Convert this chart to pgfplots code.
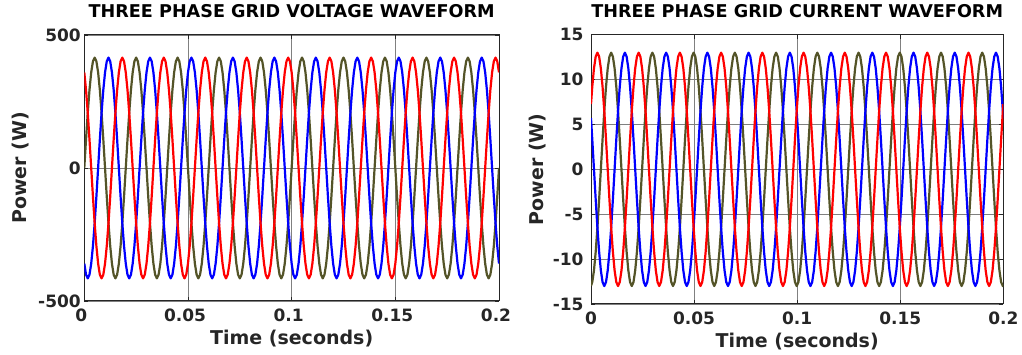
\documentclass[border=0pt]{standalone}
\usepackage{pgfplots}
\pgfplotsset{compat=1.18}
\usepackage{pgfplotstable}
\usepackage{fontspec}
\setmainfont{DejaVu Sans}
\definecolor{olv}{RGB}{84,84,40}
\definecolor{axgray}{RGB}{38,38,38}
\definecolor{pred}{RGB}{255,0,0}
\definecolor{pblue}{RGB}{0,0,255}

\pgfplotstableread{
t o r b
0.000000 0 359.4 -359.4
0.000833 107.4 293.4 -400.9
0.001667 207.5 207.5 -415
0.002500 293.4 107.4 -400.9
0.003333 359.4 0 -359.4
0.004167 400.9 -107.4 -293.4
0.005000 415 -207.5 -207.5
0.005833 400.9 -293.4 -107.4
0.006667 359.4 -359.4 0
0.007500 293.4 -400.9 107.4
0.008333 207.5 -415 207.5
0.009167 107.4 -400.9 293.4
0.010000 0 -359.4 359.4
0.010833 -107.4 -293.4 400.9
0.011667 -207.5 -207.5 415
0.012500 -293.4 -107.4 400.9
0.013333 -359.4 0 359.4
0.014167 -400.9 107.4 293.4
0.015000 -415 207.5 207.5
0.015833 -400.9 293.4 107.4
0.016667 -359.4 359.4 0
0.017500 -293.4 400.9 -107.4
0.018333 -207.5 415 -207.5
0.019167 -107.4 400.9 -293.4
0.020000 0 359.4 -359.4
0.020833 107.4 293.4 -400.9
0.021667 207.5 207.5 -415
0.022500 293.4 107.4 -400.9
0.023333 359.4 0 -359.4
0.024167 400.9 -107.4 -293.4
0.025000 415 -207.5 -207.5
0.025833 400.9 -293.4 -107.4
0.026667 359.4 -359.4 0
0.027500 293.4 -400.9 107.4
0.028333 207.5 -415 207.5
0.029167 107.4 -400.9 293.4
0.030000 0 -359.4 359.4
0.030833 -107.4 -293.4 400.9
0.031667 -207.5 -207.5 415
0.032500 -293.4 -107.4 400.9
0.033333 -359.4 0 359.4
0.034167 -400.9 107.4 293.4
0.035000 -415 207.5 207.5
0.035833 -400.9 293.4 107.4
0.036667 -359.4 359.4 0
0.037500 -293.4 400.9 -107.4
0.038333 -207.5 415 -207.5
0.039167 -107.4 400.9 -293.4
0.040000 0 359.4 -359.4
0.040833 107.4 293.4 -400.9
0.041667 207.5 207.5 -415
0.042500 293.4 107.4 -400.9
0.043333 359.4 0 -359.4
0.044167 400.9 -107.4 -293.4
0.045000 415 -207.5 -207.5
0.045833 400.9 -293.4 -107.4
0.046667 359.4 -359.4 0
0.047500 293.4 -400.9 107.4
0.048333 207.5 -415 207.5
0.049167 107.4 -400.9 293.4
0.050000 0 -359.4 359.4
0.050833 -107.4 -293.4 400.9
0.051667 -207.5 -207.5 415
0.052500 -293.4 -107.4 400.9
0.053333 -359.4 0 359.4
0.054167 -400.9 107.4 293.4
0.055000 -415 207.5 207.5
0.055833 -400.9 293.4 107.4
0.056667 -359.4 359.4 0
0.057500 -293.4 400.9 -107.4
0.058333 -207.5 415 -207.5
0.059167 -107.4 400.9 -293.4
0.060000 0 359.4 -359.4
0.060833 107.4 293.4 -400.9
0.061667 207.5 207.5 -415
0.062500 293.4 107.4 -400.9
0.063333 359.4 0 -359.4
0.064167 400.9 -107.4 -293.4
0.065000 415 -207.5 -207.5
0.065833 400.9 -293.4 -107.4
0.066667 359.4 -359.4 0
0.067500 293.4 -400.9 107.4
0.068333 207.5 -415 207.5
0.069167 107.4 -400.9 293.4
0.070000 0 -359.4 359.4
0.070833 -107.4 -293.4 400.9
0.071667 -207.5 -207.5 415
0.072500 -293.4 -107.4 400.9
0.073333 -359.4 0 359.4
0.074167 -400.9 107.4 293.4
0.075000 -415 207.5 207.5
0.075833 -400.9 293.4 107.4
0.076667 -359.4 359.4 0
0.077500 -293.4 400.9 -107.4
0.078333 -207.5 415 -207.5
0.079167 -107.4 400.9 -293.4
0.080000 0 359.4 -359.4
0.080833 107.4 293.4 -400.9
0.081667 207.5 207.5 -415
0.082500 293.4 107.4 -400.9
0.083333 359.4 0 -359.4
0.084167 400.9 -107.4 -293.4
0.085000 415 -207.5 -207.5
0.085833 400.9 -293.4 -107.4
0.086667 359.4 -359.4 0
0.087500 293.4 -400.9 107.4
0.088333 207.5 -415 207.5
0.089167 107.4 -400.9 293.4
0.090000 0 -359.4 359.4
0.090833 -107.4 -293.4 400.9
0.091667 -207.5 -207.5 415
0.092500 -293.4 -107.4 400.9
0.093333 -359.4 0 359.4
0.094167 -400.9 107.4 293.4
0.095000 -415 207.5 207.5
0.095833 -400.9 293.4 107.4
0.096667 -359.4 359.4 0
0.097500 -293.4 400.9 -107.4
0.098333 -207.5 415 -207.5
0.099167 -107.4 400.9 -293.4
0.100000 0 359.4 -359.4
0.100833 107.4 293.4 -400.9
0.101667 207.5 207.5 -415
0.102500 293.4 107.4 -400.9
0.103333 359.4 0 -359.4
0.104167 400.9 -107.4 -293.4
0.105000 415 -207.5 -207.5
0.105833 400.9 -293.4 -107.4
0.106667 359.4 -359.4 0
0.107500 293.4 -400.9 107.4
0.108333 207.5 -415 207.5
0.109167 107.4 -400.9 293.4
0.110000 0 -359.4 359.4
0.110833 -107.4 -293.4 400.9
0.111667 -207.5 -207.5 415
0.112500 -293.4 -107.4 400.9
0.113333 -359.4 0 359.4
0.114167 -400.9 107.4 293.4
0.115000 -415 207.5 207.5
0.115833 -400.9 293.4 107.4
0.116667 -359.4 359.4 0
0.117500 -293.4 400.9 -107.4
0.118333 -207.5 415 -207.5
0.119167 -107.4 400.9 -293.4
0.120000 0 359.4 -359.4
0.120833 107.4 293.4 -400.9
0.121667 207.5 207.5 -415
0.122500 293.4 107.4 -400.9
0.123333 359.4 0 -359.4
0.124167 400.9 -107.4 -293.4
0.125000 415 -207.5 -207.5
0.125833 400.9 -293.4 -107.4
0.126667 359.4 -359.4 0
0.127500 293.4 -400.9 107.4
0.128333 207.5 -415 207.5
0.129167 107.4 -400.9 293.4
0.130000 0 -359.4 359.4
0.130833 -107.4 -293.4 400.9
0.131667 -207.5 -207.5 415
0.132500 -293.4 -107.4 400.9
0.133333 -359.4 0 359.4
0.134167 -400.9 107.4 293.4
0.135000 -415 207.5 207.5
0.135833 -400.9 293.4 107.4
0.136667 -359.4 359.4 0
0.137500 -293.4 400.9 -107.4
0.138333 -207.5 415 -207.5
0.139167 -107.4 400.9 -293.4
0.140000 0 359.4 -359.4
0.140833 107.4 293.4 -400.9
0.141667 207.5 207.5 -415
0.142500 293.4 107.4 -400.9
0.143333 359.4 0 -359.4
0.144167 400.9 -107.4 -293.4
0.145000 415 -207.5 -207.5
0.145833 400.9 -293.4 -107.4
0.146667 359.4 -359.4 0
0.147500 293.4 -400.9 107.4
0.148333 207.5 -415 207.5
0.149167 107.4 -400.9 293.4
0.150000 0 -359.4 359.4
0.150833 -107.4 -293.4 400.9
0.151667 -207.5 -207.5 415
0.152500 -293.4 -107.4 400.9
0.153333 -359.4 0 359.4
0.154167 -400.9 107.4 293.4
0.155000 -415 207.5 207.5
0.155833 -400.9 293.4 107.4
0.156667 -359.4 359.4 0
0.157500 -293.4 400.9 -107.4
0.158333 -207.5 415 -207.5
0.159167 -107.4 400.9 -293.4
0.160000 0 359.4 -359.4
0.160833 107.4 293.4 -400.9
0.161667 207.5 207.5 -415
0.162500 293.4 107.4 -400.9
0.163333 359.4 0 -359.4
0.164167 400.9 -107.4 -293.4
0.165000 415 -207.5 -207.5
0.165833 400.9 -293.4 -107.4
0.166667 359.4 -359.4 0
0.167500 293.4 -400.9 107.4
0.168333 207.5 -415 207.5
0.169167 107.4 -400.9 293.4
0.170000 0 -359.4 359.4
0.170833 -107.4 -293.4 400.9
0.171667 -207.5 -207.5 415
0.172500 -293.4 -107.4 400.9
0.173333 -359.4 0 359.4
0.174167 -400.9 107.4 293.4
0.175000 -415 207.5 207.5
0.175833 -400.9 293.4 107.4
0.176667 -359.4 359.4 0
0.177500 -293.4 400.9 -107.4
0.178333 -207.5 415 -207.5
0.179167 -107.4 400.9 -293.4
0.180000 0 359.4 -359.4
0.180833 107.4 293.4 -400.9
0.181667 207.5 207.5 -415
0.182500 293.4 107.4 -400.9
0.183333 359.4 0 -359.4
0.184167 400.9 -107.4 -293.4
0.185000 415 -207.5 -207.5
0.185833 400.9 -293.4 -107.4
0.186667 359.4 -359.4 0
0.187500 293.4 -400.9 107.4
0.188333 207.5 -415 207.5
0.189167 107.4 -400.9 293.4
0.190000 0 -359.4 359.4
0.190833 -107.4 -293.4 400.9
0.191667 -207.5 -207.5 415
0.192500 -293.4 -107.4 400.9
0.193333 -359.4 0 359.4
0.194167 -400.9 107.4 293.4
0.195000 -415 207.5 207.5
0.195833 -400.9 293.4 107.4
0.196667 -359.4 359.4 0
0.197500 -293.4 400.9 -107.4
0.198333 -207.5 415 -207.5
0.199167 -107.4 400.9 -293.4
0.200000 0 359.4 -359.4
}\volt

\pgfplotstableread{
t r b o
0.000000 7.27 5.70 -12.97
0.000611 9.19 3.36 -12.56
0.001444 11.26 0 -11.26
0.002278 12.56 -3.36 -9.19
0.003111 13 -6.5 -6.5
0.003944 12.56 -9.19 -3.36
0.004778 11.26 -11.26 0
0.005611 9.19 -12.56 3.36
0.006444 6.5 -13 6.5
0.007278 3.36 -12.56 9.19
0.008111 0 -11.26 11.26
0.008944 -3.36 -9.19 12.56
0.009778 -6.5 -6.5 13
0.010611 -9.19 -3.36 12.56
0.011444 -11.26 0 11.26
0.012278 -12.56 3.36 9.19
0.013111 -13 6.5 6.5
0.013944 -12.56 9.19 3.36
0.014778 -11.26 11.26 0
0.015611 -9.19 12.56 -3.36
0.016444 -6.5 13 -6.5
0.017278 -3.36 12.56 -9.19
0.018111 0 11.26 -11.26
0.018944 3.36 9.19 -12.56
0.019778 6.5 6.5 -13
0.020611 9.19 3.36 -12.56
0.021444 11.26 0 -11.26
0.022278 12.56 -3.36 -9.19
0.023111 13 -6.5 -6.5
0.023944 12.56 -9.19 -3.36
0.024778 11.26 -11.26 0
0.025611 9.19 -12.56 3.36
0.026444 6.5 -13 6.5
0.027278 3.36 -12.56 9.19
0.028111 0 -11.26 11.26
0.028944 -3.36 -9.19 12.56
0.029778 -6.5 -6.5 13
0.030611 -9.19 -3.36 12.56
0.031444 -11.26 0 11.26
0.032278 -12.56 3.36 9.19
0.033111 -13 6.5 6.5
0.033944 -12.56 9.19 3.36
0.034778 -11.26 11.26 0
0.035611 -9.19 12.56 -3.36
0.036444 -6.5 13 -6.5
0.037278 -3.36 12.56 -9.19
0.038111 0 11.26 -11.26
0.038944 3.36 9.19 -12.56
0.039778 6.5 6.5 -13
0.040611 9.19 3.36 -12.56
0.041444 11.26 0 -11.26
0.042278 12.56 -3.36 -9.19
0.043111 13 -6.5 -6.5
0.043944 12.56 -9.19 -3.36
0.044778 11.26 -11.26 0
0.045611 9.19 -12.56 3.36
0.046444 6.5 -13 6.5
0.047278 3.36 -12.56 9.19
0.048111 0 -11.26 11.26
0.048944 -3.36 -9.19 12.56
0.049778 -6.5 -6.5 13
0.050611 -9.19 -3.36 12.56
0.051444 -11.26 0 11.26
0.052278 -12.56 3.36 9.19
0.053111 -13 6.5 6.5
0.053944 -12.56 9.19 3.36
0.054778 -11.26 11.26 0
0.055611 -9.19 12.56 -3.36
0.056444 -6.5 13 -6.5
0.057278 -3.36 12.56 -9.19
0.058111 0 11.26 -11.26
0.058944 3.36 9.19 -12.56
0.059778 6.5 6.5 -13
0.060611 9.19 3.36 -12.56
0.061444 11.26 0 -11.26
0.062278 12.56 -3.36 -9.19
0.063111 13 -6.5 -6.5
0.063944 12.56 -9.19 -3.36
0.064778 11.26 -11.26 0
0.065611 9.19 -12.56 3.36
0.066444 6.5 -13 6.5
0.067278 3.36 -12.56 9.19
0.068111 0 -11.26 11.26
0.068944 -3.36 -9.19 12.56
0.069778 -6.5 -6.5 13
0.070611 -9.19 -3.36 12.56
0.071444 -11.26 0 11.26
0.072278 -12.56 3.36 9.19
0.073111 -13 6.5 6.5
0.073944 -12.56 9.19 3.36
0.074778 -11.26 11.26 0
0.075611 -9.19 12.56 -3.36
0.076444 -6.5 13 -6.5
0.077278 -3.36 12.56 -9.19
0.078111 0 11.26 -11.26
0.078944 3.36 9.19 -12.56
0.079778 6.5 6.5 -13
0.080611 9.19 3.36 -12.56
0.081444 11.26 0 -11.26
0.082278 12.56 -3.36 -9.19
0.083111 13 -6.5 -6.5
0.083944 12.56 -9.19 -3.36
0.084778 11.26 -11.26 0
0.085611 9.19 -12.56 3.36
0.086444 6.5 -13 6.5
0.087278 3.36 -12.56 9.19
0.088111 0 -11.26 11.26
0.088944 -3.36 -9.19 12.56
0.089778 -6.5 -6.5 13
0.090611 -9.19 -3.36 12.56
0.091444 -11.26 0 11.26
0.092278 -12.56 3.36 9.19
0.093111 -13 6.5 6.5
0.093944 -12.56 9.19 3.36
0.094778 -11.26 11.26 0
0.095611 -9.19 12.56 -3.36
0.096444 -6.5 13 -6.5
0.097278 -3.36 12.56 -9.19
0.098111 0 11.26 -11.26
0.098944 3.36 9.19 -12.56
0.099778 6.5 6.5 -13
0.100611 9.19 3.36 -12.56
0.101444 11.26 0 -11.26
0.102278 12.56 -3.36 -9.19
0.103111 13 -6.5 -6.5
0.103944 12.56 -9.19 -3.36
0.104778 11.26 -11.26 0
0.105611 9.19 -12.56 3.36
0.106444 6.5 -13 6.5
0.107278 3.36 -12.56 9.19
0.108111 0 -11.26 11.26
0.108944 -3.36 -9.19 12.56
0.109778 -6.5 -6.5 13
0.110611 -9.19 -3.36 12.56
0.111444 -11.26 0 11.26
0.112278 -12.56 3.36 9.19
0.113111 -13 6.5 6.5
0.113944 -12.56 9.19 3.36
0.114778 -11.26 11.26 0
0.115611 -9.19 12.56 -3.36
0.116444 -6.5 13 -6.5
0.117278 -3.36 12.56 -9.19
0.118111 0 11.26 -11.26
0.118944 3.36 9.19 -12.56
0.119778 6.5 6.5 -13
0.120611 9.19 3.36 -12.56
0.121444 11.26 0 -11.26
0.122278 12.56 -3.36 -9.19
0.123111 13 -6.5 -6.5
0.123944 12.56 -9.19 -3.36
0.124778 11.26 -11.26 0
0.125611 9.19 -12.56 3.36
0.126444 6.5 -13 6.5
0.127278 3.36 -12.56 9.19
0.128111 0 -11.26 11.26
0.128944 -3.36 -9.19 12.56
0.129778 -6.5 -6.5 13
0.130611 -9.19 -3.36 12.56
0.131444 -11.26 0 11.26
0.132278 -12.56 3.36 9.19
0.133111 -13 6.5 6.5
0.133944 -12.56 9.19 3.36
0.134778 -11.26 11.26 0
0.135611 -9.19 12.56 -3.36
0.136444 -6.5 13 -6.5
0.137278 -3.36 12.56 -9.19
0.138111 0 11.26 -11.26
0.138944 3.36 9.19 -12.56
0.139778 6.5 6.5 -13
0.140611 9.19 3.36 -12.56
0.141444 11.26 0 -11.26
0.142278 12.56 -3.36 -9.19
0.143111 13 -6.5 -6.5
0.143944 12.56 -9.19 -3.36
0.144778 11.26 -11.26 0
0.145611 9.19 -12.56 3.36
0.146444 6.5 -13 6.5
0.147278 3.36 -12.56 9.19
0.148111 0 -11.26 11.26
0.148944 -3.36 -9.19 12.56
0.149778 -6.5 -6.5 13
0.150611 -9.19 -3.36 12.56
0.151444 -11.26 0 11.26
0.152278 -12.56 3.36 9.19
0.153111 -13 6.5 6.5
0.153944 -12.56 9.19 3.36
0.154778 -11.26 11.26 0
0.155611 -9.19 12.56 -3.36
0.156444 -6.5 13 -6.5
0.157278 -3.36 12.56 -9.19
0.158111 0 11.26 -11.26
0.158944 3.36 9.19 -12.56
0.159778 6.5 6.5 -13
0.160611 9.19 3.36 -12.56
0.161444 11.26 0 -11.26
0.162278 12.56 -3.36 -9.19
0.163111 13 -6.5 -6.5
0.163944 12.56 -9.19 -3.36
0.164778 11.26 -11.26 0
0.165611 9.19 -12.56 3.36
0.166444 6.5 -13 6.5
0.167278 3.36 -12.56 9.19
0.168111 0 -11.26 11.26
0.168944 -3.36 -9.19 12.56
0.169778 -6.5 -6.5 13
0.170611 -9.19 -3.36 12.56
0.171444 -11.26 0 11.26
0.172278 -12.56 3.36 9.19
0.173111 -13 6.5 6.5
0.173944 -12.56 9.19 3.36
0.174778 -11.26 11.26 0
0.175611 -9.19 12.56 -3.36
0.176444 -6.5 13 -6.5
0.177278 -3.36 12.56 -9.19
0.178111 0 11.26 -11.26
0.178944 3.36 9.19 -12.56
0.179778 6.5 6.5 -13
0.180611 9.19 3.36 -12.56
0.181444 11.26 0 -11.26
0.182278 12.56 -3.36 -9.19
0.183111 13 -6.5 -6.5
0.183944 12.56 -9.19 -3.36
0.184778 11.26 -11.26 0
0.185611 9.19 -12.56 3.36
0.186444 6.5 -13 6.5
0.187278 3.36 -12.56 9.19
0.188111 0 -11.26 11.26
0.188944 -3.36 -9.19 12.56
0.189778 -6.5 -6.5 13
0.190611 -9.19 -3.36 12.56
0.191444 -11.26 0 11.26
0.192278 -12.56 3.36 9.19
0.193111 -13 6.5 6.5
0.193944 -12.56 9.19 3.36
0.194778 -11.26 11.26 0
0.195611 -9.19 12.56 -3.36
0.196444 -6.5 13 -6.5
0.197278 -3.36 12.56 -9.19
0.198111 0 11.26 -11.26
0.198944 3.36 9.19 -12.56
0.199778 6.5 6.5 -13
0.200000 7.27 5.70 -12.97
}\curr

\pgfplotsset{
  wave/.style={
    scale only axis, anchor=south west,
    xmin=0, xmax=0.2,
    xtick={0,0.05,0.1,0.15,0.2},
    xticklabels={0,0.05,0.1,0.15,0.2},
    scaled x ticks=false, scaled y ticks=false,
    grid=major,
    grid style={line width=0.7pt, draw=black!50},
    axis line style={line width=1pt, draw=axgray},
    every tick/.style={line width=0.8pt, draw=axgray},
    tick align=inside, major tick length=4pt,
    every tick label/.append style={font=\fontsize{17}{20}\selectfont\bfseries, text=axgray},
    xticklabel style={anchor=base, yshift=-20.5pt},
    title style={font=\fontsize{17.6}{21}\selectfont\bfseries, text=black, at={(axis description cs:0.5,1)}, anchor=base, yshift=11.5pt},
    xlabel style={font=\fontsize{19}{22}\selectfont\bfseries, text=axgray, at={(axis description cs:0.5,0)}, anchor=base, yshift=-44pt},
    ylabel style={font=\fontsize{19}{22}\selectfont\bfseries, text=axgray, at={(axis description cs:0,0.5)}, anchor=center},
    xlabel={Time (seconds)}, ylabel={Power (W)},
    every axis plot/.append style={line width=2.2pt, no markers, line join=round},
  }
}

\begin{document}
\begin{tikzpicture}
\useasboundingbox (0,0) rectangle (1022pt,355pt);
\begin{axis}[wave,
  at={(84.3pt,54pt)}, width=414.7pt, height=266pt,
  ymin=-500, ymax=500, ytick={-500,0,500}, yticklabels={-500,0,500},
  xticklabel style={xshift=-3pt},
  ylabel style={yshift=63.8pt},
  title={THREE PHASE GRID VOLTAGE WAVEFORM}]
\addplot[olv] table[x=t, y=o] {\volt};
\addplot[pblue] table[x=t, y=b] {\volt};
\addplot[pred] table[x=t, y=r] {\volt};
\end{axis}
\begin{axis}[wave,
  at={(591pt,51pt)}, width=412.3pt, height=269.3pt,
  ymin=-15, ymax=15, ytick={-15,-10,-5,0,5,10,15}, yticklabels={-15,-10,-5,0,5,10,15},
  yticklabel style={xshift=-4pt},
  ylabel style={yshift=53.5pt},
  title={THREE PHASE GRID CURRENT WAVEFORM}]
\addplot[olv] table[x=t, y=o] {\curr};
\addplot[pblue] table[x=t, y=b] {\curr};
\addplot[pred] table[x=t, y=r] {\curr};
\end{axis}
\end{tikzpicture}
\end{document}
